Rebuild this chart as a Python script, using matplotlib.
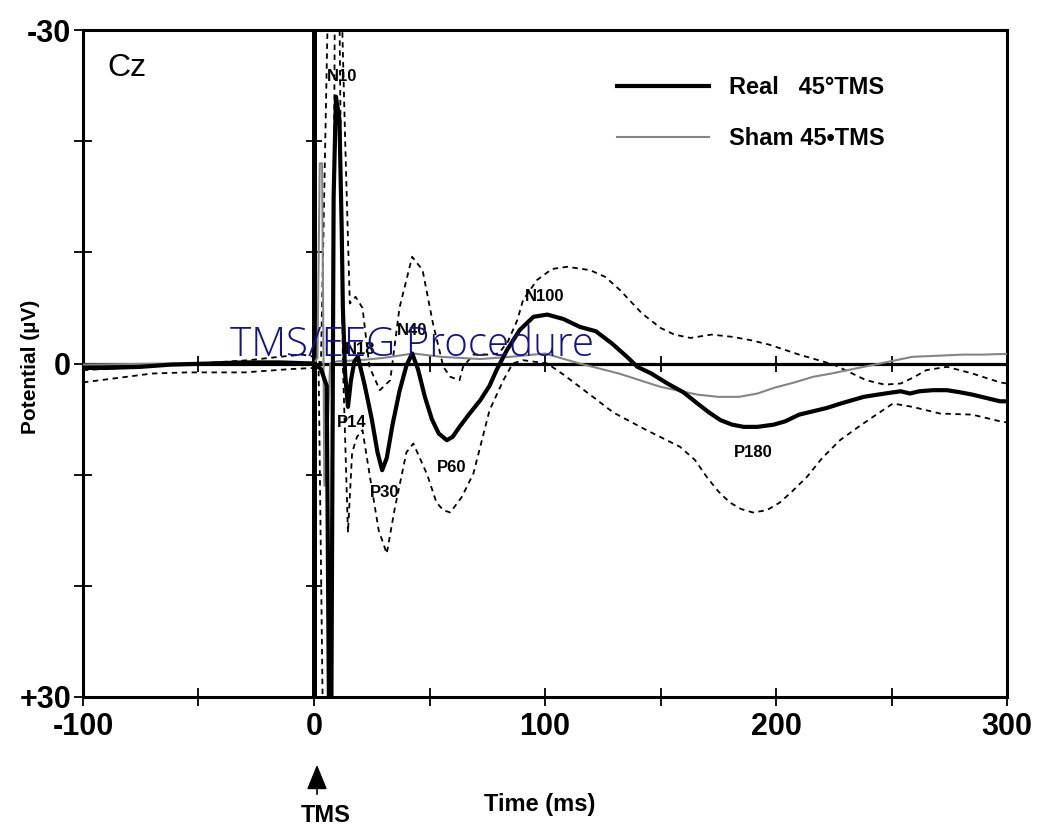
import numpy as np
import matplotlib
matplotlib.use("Agg")
import matplotlib.pyplot as plt

plt.rcParams["axes.unicode_minus"] = False

# ---------------- data ----------------
real_t = [-100, -90, -75, -62, -45, -30, -15, 0, 3, 5.5, 6.5, 7.5, 8.5, 9.5, 11, 12, 12.5,
          13.5, 14.7, 16, 17.5, 19, 22, 25, 27.5, 29.5, 31.5, 34, 37, 40, 42.5, 45, 48, 51,
          54, 57.5, 60, 63, 67, 72, 76, 79, 83.5, 89, 95, 101, 108, 115, 122, 129, 135.5,
          140, 146, 153, 160, 166, 171, 176, 181, 186, 192, 199, 204, 210, 216, 222, 228,
          233, 238, 244, 250.5, 254, 258, 262, 268, 274, 280, 285, 291, 297, 300]
real_v = [0.4, 0.4, 0.3, 0.1, 0.0, -0.1, -0.1, 0.0, 0.5, 2.0, 32, 32, -15, -24, -22, -12, -5,
          1.0, 3.9, 1.5, -0.2, -0.6, 2.0, 5.0, 8.0, 9.6, 8.5, 5.5, 2.5, 0.2, -0.9, 0.5, 3.0, 5.0,
          6.3, 6.9, 6.6, 5.7, 4.6, 3.3, 2.0, 0.6, -1.2, -3.0, -4.2, -4.4, -4.0, -3.3, -2.9, -1.8,
          -0.6, 0.3, 0.9, 1.8, 2.6, 3.6, 4.4, 5.1, 5.5, 5.7, 5.7, 5.5, 5.2, 4.6, 4.3, 4.0, 3.6,
          3.3, 3.0, 2.8, 2.6, 2.5, 2.7, 2.5, 2.4, 2.4, 2.6, 2.8, 3.1, 3.4, 3.4]

sham_t = [-100, -60, -20, 0, 1.5, 2.5, 3.5, 4.5, 5.5, 7, 10, 20, 30, 43, 55, 72, 85, 100,
          115, 132, 150, 166, 175, 184, 192, 199, 208, 216, 224, 231, 238, 245, 252, 259,
          270, 281, 290, 297, 300]
sham_v = [0.1, 0.0, -0.1, 0.0, -0.5, -18, -18, 11, 8, 0.0, -0.2, -0.3, -0.5, -0.9, -0.6, -0.4,
          -0.6, -0.9, 0.0, 0.9, 2.1, 2.8, 3.0, 3.0, 2.7, 2.2, 1.7, 1.2, 0.9, 0.6, 0.3, 0.0, -0.3,
          -0.6, -0.7, -0.8, -0.8, -0.85, -0.85]

upper_t = [-100, -75, -50, -28, -15, -5, 0, 3, 6, 12, 13.5, 15.5, 18, 21, 24, 28.5, 33, 37,
           42.5, 47, 51.5, 56, 59, 63, 64.5, 69, 75, 80, 84, 88, 90.5, 96.5, 103, 109.5,
           119.5, 126, 132.5, 142, 150, 156, 163, 172, 181, 189, 197, 210, 225, 239, 247,
           254, 260, 265, 274, 285, 297, 300]
upper_v = [0.6, 0.3, 0.0, -0.3, -0.6, -0.8, -0.6, 0.0, -32, -32, -20, -5.4, -6.0, -5.0, 0.3,
           2.4, 1.5, -5.0, -9.6, -8.4, -3.6, 0.3, 1.2, 1.5, 0.3, -0.8, -0.8, -0.9, -2.0, -3.9,
           -5.7, -7.5, -8.5, -8.7, -8.4, -7.8, -6.6, -4.5, -3.2, -2.6, -2.3, -2.6, -2.4, -2.1,
           -1.7, -0.8, 0.1, 1.5, 1.9, 1.8, 1.2, 0.6, 0.3, 0.9, 1.7, 1.8]

lower_t = [-100, -85, -70, -55, -30, -10, 0, 2, 4, 7.5, 9, 11, 12.5, 14.7, 16.5, 18.6, 21, 24,
           28, 31.5, 35, 40, 43, 49, 53, 56, 59, 64, 69, 76, 82, 86, 90.5, 101, 108, 115,
           122, 129.5, 144, 158.5, 165, 170, 175, 180, 185, 190, 196, 201.7, 207, 213.4,
           220, 227.7, 235, 242, 250.6, 259, 271, 285, 297, 300]
lower_v = [1.7, 1.3, 0.9, 0.8, 0.8, 0.5, 0.4, 0.5, 35, 35, -32, -32, 0.0, 15.2, 8.0, 6.6, 6.0,
           9.9, 15.0, 17.1, 13.0, 8.0, 7.2, 10.0, 12.5, 13.2, 13.4, 12.0, 9.9, 4.2, 1.5, 0.0,
           -0.3, 0.0, 1.0, 2.1, 3.2, 4.4, 6.0, 7.5, 8.7, 10.2, 11.5, 12.5, 13.1, 13.4, 13.2,
           12.5, 11.5, 10.2, 8.5, 6.9, 5.8, 4.8, 3.6, 3.9, 4.5, 4.6, 5.2, 5.3]

peak_labels = ["N10", "P14", "N18", "P30", "N40", "P60", "N100", "P180"]
peak_t = [12, 16.5, 20, 30.7, 42.4, 59.7, 100, 190]
peak_v = [-25.8, 5.3, -1.3, 11.6, -3.0, 9.4, -6.0, 8.0]

x_major = [-100, 0, 100, 200, 300]
x_minor = [-50, 50, 150, 250]
y_major = [-30, 0, 30]
y_major_labels = ["-30", "0", "+30"]
y_minor = [-20, -10, 10, 20]

series_labels = ["Real   45°TMS", "Sham 45•TMS"]

# ---------------- figure ----------------
fig = plt.figure(figsize=(10.41, 8.34), dpi=100)
ax = fig.add_axes([83 / 1041, 1 - 697 / 834, 924 / 1041, 667 / 834])
ax.set_xlim(-100, 300)
ax.set_ylim(30, -30)

BOLD = dict(family=["Liberation Sans", "DejaVu Sans"], fontweight="bold")

# zero lines
ax.axhline(0, color="black", lw=2.3, zorder=2)
ax.axvline(0, color="black", lw=3.6, zorder=2)
# tick marks on the zero lines
ax.plot(x_minor + x_major[2:4], [0] * (len(x_minor) + 2), ls="none", marker="|",
        ms=12, mew=1.3, color="black", zorder=2)
ax.plot([0] * len(y_minor), y_minor, ls="none", marker="_", ms=12, mew=1.3,
        color="black", zorder=2)

# traces
ax.plot(upper_t, upper_v, color="black", lw=1.3, ls=(0, (3, 2.5)), zorder=3)
ax.plot(lower_t, lower_v, color="black", lw=1.3, ls=(0, (3, 2.5)), zorder=3)
l_sham, = ax.plot(sham_t, sham_v, color="#858585", lw=1.5, zorder=4)
l_real, = ax.plot(real_t, real_v, color="black", lw=3.0, zorder=5)

# peak labels
for lab, t, v in zip(peak_labels, peak_t, peak_v):
    ax.text(t, v, lab, ha="center", va="center", fontsize=12, zorder=6, **BOLD)

ax.text(0.026, 0.943, "Cz", transform=ax.transAxes, fontsize=23,
        family=["Liberation Sans"], ha="left", va="center")

# overlay title text
ax.text(42.4, -1.6, "TMS/EEG Procedure", color="#12128c", fontsize=29,
        family=["Open Sans", "DejaVu Sans"], fontweight="light",
        ha="center", va="center", zorder=7)

# legend
leg = ax.legend([l_real, l_sham], series_labels, loc="upper left",
                bbox_to_anchor=((617 - 83) / 924, 1 - (76 - 30) / 667),
                frameon=False, handlelength=3.9, handletextpad=0.85,
                labelspacing=1.2, borderpad=0, borderaxespad=0,
                prop=dict(family="Liberation Sans", weight="bold", size=17))

# axes styling
for s in ax.spines.values():
    s.set_linewidth(2.2)
ax.set_xticks(x_major)
ax.set_xticks(x_minor, minor=True)
ax.set_yticks(y_major)
ax.set_yticklabels(y_major_labels)
ax.set_yticks(y_minor, minor=True)
ax.tick_params(which="both", direction="inout", length=13, width=1.3)
ax.tick_params(axis="x", which="major", pad=4)
ax.tick_params(axis="y", which="major", pad=2)
for lab in ax.get_xticklabels() + ax.get_yticklabels():
    lab.set_fontsize(22)
    lab.set_fontweight("bold")
    lab.set_family(["Liberation Sans"])

fig.text(30 / 1041, 1 - 367 / 834, "Potential (µV)", rotation=90, ha="center",
         va="center", fontsize=15, **BOLD)
fig.text(540 / 1041, 1 - 805 / 834, "Time (ms)", ha="center", va="center",
         fontsize=17, **BOLD)
fig.text(326 / 1041, 1 - 815 / 834, "TMS", ha="center", va="center",
         fontsize=17, **BOLD)
fig.add_artist(matplotlib.patches.FancyArrowPatch(
    (317 / 1041, 1 - 797 / 834), (317 / 1041, 1 - 762 / 834),
    transform=fig.transFigure, arrowstyle="-|>,head_length=1.1,head_width=0.45",
    mutation_scale=14, lw=1.2, color="black"))

fig.savefig("out.png", dpi=100)
